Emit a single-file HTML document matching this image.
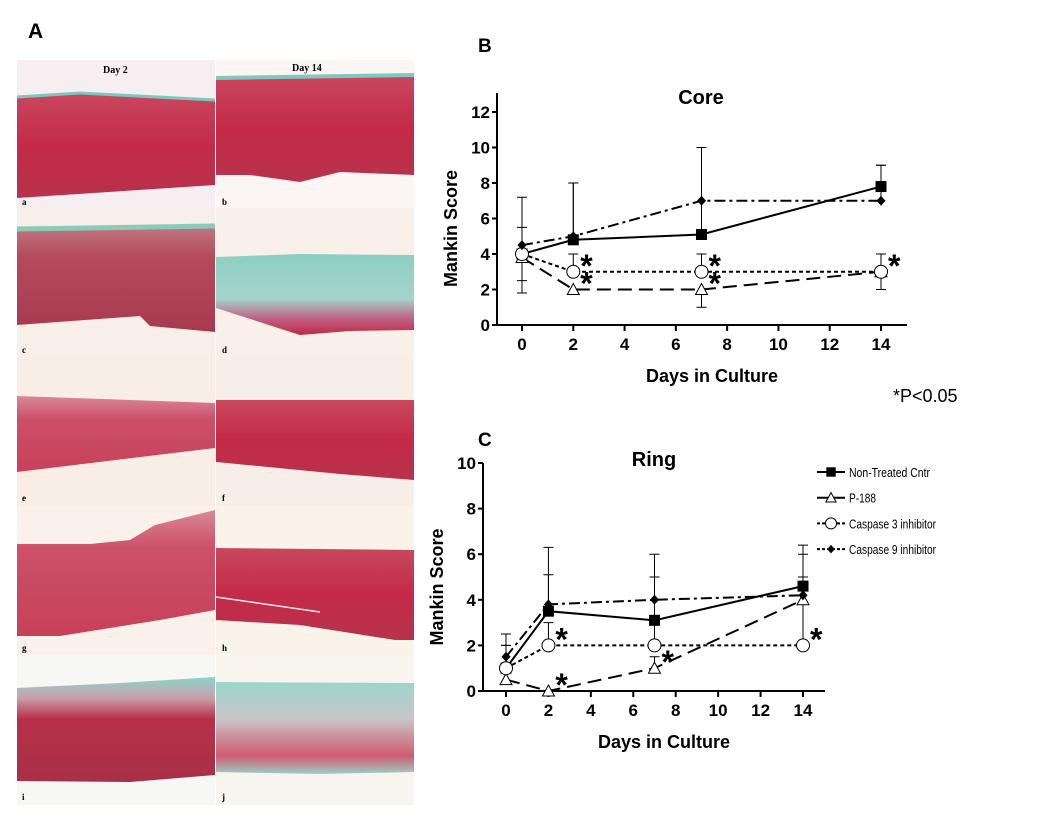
<!DOCTYPE html>
<html><head><meta charset="utf-8">
<style>
html,body{margin:0;padding:0;background:#fff;}
svg{display:block;font-family:"Liberation Sans",Arial,sans-serif;}
</style></head>
<body>
<svg id="fig" width="1050" height="813" viewBox="0 0 1050 813" xmlns="http://www.w3.org/2000/svg">
<defs>
<linearGradient id="redg" x1="0" y1="0" x2="0" y2="1"><stop offset="0" stop-color="#c8485e"/><stop offset="0.5" stop-color="#c42a48"/><stop offset="1" stop-color="#b8324c"/></linearGradient>
<linearGradient id="greyred" x1="0" y1="0" x2="0" y2="1"><stop offset="0" stop-color="#c07a82"/><stop offset="0.3" stop-color="#b54a5c"/><stop offset="1" stop-color="#a83a50"/></linearGradient>
<linearGradient id="tealred" x1="0" y1="0" x2="0" y2="1"><stop offset="0" stop-color="#8ccfc2"/><stop offset="0.55" stop-color="#a4d4cc"/><stop offset="0.8" stop-color="#c06080"/><stop offset="1" stop-color="#c02848"/></linearGradient>
<linearGradient id="pinkred" x1="0" y1="0" x2="0" y2="1"><stop offset="0" stop-color="#d88898"/><stop offset="0.3" stop-color="#cc5068"/><stop offset="1" stop-color="#c8405a"/></linearGradient>
<linearGradient id="darkred" x1="0" y1="0" x2="0" y2="1"><stop offset="0" stop-color="#8ed4cc"/><stop offset="0.2" stop-color="#c8a0a8"/><stop offset="0.4" stop-color="#b83048"/><stop offset="1" stop-color="#a83048"/></linearGradient>
<linearGradient id="paleteal" x1="0" y1="0" x2="0" y2="1"><stop offset="0" stop-color="#9ad6cc"/><stop offset="0.4" stop-color="#c8c6c8"/><stop offset="0.8" stop-color="#d05a70"/><stop offset="1" stop-color="#9ad0c8"/></linearGradient>
</defs>

<text x="28" y="38" font-size="21" font-weight="bold">A</text>
<g id="photos">
 <g>
  <rect x="17" y="60" width="198" height="148" fill="#f6eef0"/>
  <polygon points="17,97 80,93 215,100 215,185 17,198" fill="url(#redg)"/>
  <polyline points="17,97 80,93 215,100" stroke="#7cc8c0" stroke-width="3" fill="none"/>
  <text x="103" y="73" font-family="Liberation Serif" font-weight="bold" font-size="10">Day 2</text>
  <text x="22" y="205" font-family="Liberation Serif" font-weight="bold" font-size="9">a</text>
 </g>
 <g>
  <rect x="216" y="60" width="198" height="148" fill="#fbf6f4"/>
  <polygon points="216,78 414,75 414,175 340,172 300,182 250,175 216,175" fill="url(#redg)"/>
  <line x1="216" y1="78" x2="414" y2="75" stroke="#80c8c0" stroke-width="4"/>
  <text x="292" y="71" font-family="Liberation Serif" font-weight="bold" font-size="10">Day 14</text>
  <text x="222" y="205" font-family="Liberation Serif" font-weight="bold" font-size="9">b</text>
 </g>
 <g>
  <rect x="17" y="208" width="198" height="149" fill="#f8efe8"/>
  <polygon points="17,228 215,225 215,332 150,326 140,316 17,325" fill="url(#greyred)"/>
  <line x1="17" y1="229" x2="215" y2="226" stroke="#8ccbb8" stroke-width="5"/>
  <text x="22" y="353" font-family="Liberation Serif" font-weight="bold" font-size="9">c</text>
 </g>
 <g>
  <rect x="216" y="208" width="198" height="149" fill="#faf0ea"/>
  <polygon points="216,257 300,254 414,255 414,330 350,331 300,335 216,308" fill="url(#tealred)"/>
  <text x="222" y="353" font-family="Liberation Serif" font-weight="bold" font-size="9">d</text>
 </g>
 <g>
  <rect x="17" y="357" width="198" height="149" fill="#f8eee6"/>
  <polygon points="17,396 215,403 215,448 17,472" fill="url(#pinkred)"/>
  <text x="22" y="501" font-family="Liberation Serif" font-weight="bold" font-size="9">e</text>
 </g>
 <g>
  <rect x="216" y="357" width="198" height="149" fill="#f8eee8"/>
  <polygon points="216,400 414,400 414,480 340,474 216,462" fill="url(#redg)"/>
  <text x="222" y="501" font-family="Liberation Serif" font-weight="bold" font-size="9">f</text>
 </g>
 <g>
  <rect x="17" y="506" width="198" height="149" fill="#faf2ea"/>
  <polygon points="17,544 90,544 130,540 155,525 215,510 215,610 160,620 60,636 17,636" fill="url(#pinkred)"/>
  <text x="22" y="651" font-family="Liberation Serif" font-weight="bold" font-size="9">g</text>
 </g>
 <g>
  <rect x="216" y="506" width="198" height="149" fill="#faf3ea"/>
  <polygon points="216,548 414,550 414,640 395,640 300,625 216,620" fill="url(#redg)"/>
  <line x1="216" y1="597" x2="320" y2="612" stroke="#f0e8e8" stroke-width="1.5"/>
  <text x="222" y="651" font-family="Liberation Serif" font-weight="bold" font-size="9">h</text>
 </g>
 <g>
  <rect x="17" y="655" width="198" height="150" fill="#f7f7f4"/>
  <polygon points="17,688 120,683 215,677 215,775 130,782 17,781" fill="url(#darkred)"/>
  <text x="22" y="800" font-family="Liberation Serif" font-weight="bold" font-size="9">i</text>
 </g>
 <g>
  <rect x="216" y="655" width="198" height="150" fill="#f8f4ee"/>
  <polygon points="216,682 414,683 414,772 320,774 216,772" fill="url(#paleteal)"/>
  <text x="222" y="800" font-family="Liberation Serif" font-weight="bold" font-size="9">j</text>
 </g>
</g>

<text x="478" y="52" font-size="19" font-weight="bold">B</text>
<text x="478" y="446" font-size="19" font-weight="bold">C</text>
<text x="893" y="402" font-size="18">*P&lt;0.05</text>

<g id="chartB"></g>
<g id="chartC"></g>
<g id="legend"></g>
</svg>
<script>
const days = [0, 2, 7, 14];
const seriesNames = ["Non-Treated Cntr", "P-188", "Caspase 3 inhibitor", "Caspase 9 inhibitor"];
// Core
const coreNT = [4, 4.8, 5.1, 7.8];
const coreP188 = [3.8, 2, 2, 3];
const coreC3 = [4, 3, 3, 3];
const coreC9 = [4.5, 5, 7, 7];
const coreNTerr = [1.5, 3.2, 4.9, 1.2];
const coreP188err = [0, 0, 0, 0];
const coreC3err = [0, 1, 1, 1];
const coreC9err = [2.7, 3, 3, 2];
const coreP188down = [2, 0, 1, 1];
const coreC3down = [1.5, 0, 0, 0];
const coreYTicks = [0, 2, 4, 6, 8, 10, 12];
// Ring
const ringNT = [1, 3.5, 3.1, 4.6];
const ringP188 = [0.5, 0, 1, 4];
const ringC3 = [1, 2, 2, 2];
const ringC9 = [1.5, 3.8, 4, 4.2];
const ringNTerr = [1, 1.6, 1.9, 1.4];
const ringP188err = [0, 0, 0.5, 1];
const ringC3err = [1, 1, 3, 3];
const ringC9err = [1, 2.5, 2, 2.2];
const ringYTicks = [0, 2, 4, 6, 8, 10];
const xTicks = [0, 2, 4, 6, 8, 10, 12, 14];
// stars: [seriesIndex, dayIndex]
const coreStars = [[2,1],[1,1],[2,2],[1,2],[2,3]];
const ringStars = [[2,1],[1,1],[1,2],[2,3]];

const NS = "http://www.w3.org/2000/svg";
function mk(parent, tag, attrs, text) {
  const e = document.createElementNS(NS, tag);
  for (const k in attrs) e.setAttribute(k, attrs[k]);
  if (text !== undefined) e.textContent = text;
  parent.appendChild(e);
  return e;
}
const dashes = ["", "14,7", "4,3", "11,4,3,4"];

function marker(g, kind, cx, cy, name, s) {
  s = s || 1;
  let m;
  if (kind === 0) m = mk(g, "rect", {x: cx-5.5*s, y: cy-5.5*s, width: 11*s, height: 11*s, fill: "#000"});
  else if (kind === 1) m = mk(g, "polygon", {points: `${cx},${cy-6*s} ${cx+6*s},${cy+5*s} ${cx-6*s},${cy+5*s}`, fill: "#fff", stroke: "#000", "stroke-width": 1});
  else if (kind === 2) m = mk(g, "circle", {cx: cx, cy: cy, r: 6.5*s, fill: "#fff", stroke: "#000", "stroke-width": 1});
  else m = mk(g, "polygon", {points: `${cx},${cy-5*s} ${cx+4.5*s},${cy} ${cx},${cy+5*s} ${cx-4.5*s},${cy}`, fill: "#000"});
  
  
}

function drawChart(gid, cfg) {
  const g = document.getElementById(gid);
  const X = d => cfg.x0 + (d / 14) * (cfg.x14 - cfg.x0);
  const Y = v => cfg.y0 - (v / cfg.ymax) * (cfg.y0 - cfg.ytop);
  const ya = mk(g, "line", {x1: cfg.ax, y1: cfg.axTop, x2: cfg.ax, y2: cfg.y0, stroke: "#000", "stroke-width": 2});
  
  
  const xa = mk(g, "line", {x1: cfg.ax, y1: cfg.y0, x2: cfg.xEnd, y2: cfg.y0, stroke: "#000", "stroke-width": 2});
  
  
  cfg.yTicks.forEach(t => {
    mk(g, "line", {x1: cfg.ax-5, y1: Y(t), x2: cfg.ax, y2: Y(t), stroke: "#000", "stroke-width": 2});
    const tl = mk(g, "text", {x: cfg.ax-7, y: Y(t)+6, "text-anchor": "end", "font-size": 17, "font-weight": "bold"}, t);
    
    
  });
  xTicks.forEach(t => {
    mk(g, "line", {x1: X(t), y1: cfg.y0, x2: X(t), y2: cfg.y0+6, stroke: "#000", "stroke-width": 2});
    const tl = mk(g, "text", {x: X(t), y: cfg.y0+25, "text-anchor": "middle", "font-size": 17, "font-weight": "bold"}, t);
    
    
  });
  const yt = mk(g, "text", {x: 0, y: 0, "text-anchor": "middle", "font-size": 18, "font-weight": "bold", transform: `translate(${cfg.ax-40},${(cfg.y0+cfg.ytop)/2+10}) rotate(-90)`}, "Mankin Score");
  
  
  const xt = mk(g, "text", {x: (cfg.ax+cfg.xEnd)/2+10, y: cfg.y0+57, "text-anchor": "middle", "font-size": 18, "font-weight": "bold"}, "Days in Culture");
  
  
  const ti = mk(g, "text", {x: cfg.titleX, y: cfg.titleY, "text-anchor": "middle", "font-size": 20, "font-weight": "bold"}, cfg.title);
  
  
  function bar(x, y1, y2) {
    const eb = mk(g, "path", {d: `M${x},${y1}V${y2}M${x-5},${y2}H${x+5}`, stroke: "#000", "stroke-width": 1, fill: "none"});
    
    
  }
  cfg.series.forEach((s, si) => {
    s.forEach((v, i) => {
      const e = cfg.errs[si][i];
      if (e > 0) bar(X(days[i]), Y(v), Y(v + e));
      const dn = cfg.down[si] ? cfg.down[si][i] : 0;
      if (dn > 0) bar(X(days[i]), Y(v), Y(v - dn));
    });
  });
  cfg.series.forEach((s, si) => {
    const pts = s.map((v, i) => `${X(days[i])},${Y(v)}`).join(" ");
    const pl = mk(g, "polyline", {points: pts, fill: "none", stroke: "#000", "stroke-width": 2, "stroke-dasharray": dashes[si]});
    
    
  });
  cfg.series.forEach((s, si) => {
    s.forEach((v, i) => marker(g, si, X(days[i]), Y(v), 'data-point'));
  });
  cfg.stars.forEach(([si, di]) => {
    const v = cfg.series[si][di];
    const st = mk(g, "text", {x: X(days[di]) + 7, y: Y(v) + 5, "font-size": 32, "font-weight": "bold"}, "*");
    
    
  });
}

drawChart("chartB", {x0: 522, x14: 881, ax: 497, xEnd: 907, y0: 325, ytop: 112, ymax: 12, axTop: 93,
  yTicks: coreYTicks, title: "Core", titleX: 701, titleY: 104,
  series: [coreNT, coreP188, coreC3, coreC9], errs: [coreNTerr, coreP188err, coreC3err, coreC9err],
  down: [null, coreP188down, coreC3down, null], stars: coreStars});
drawChart("chartC", {x0: 506, x14: 803, ax: 483, xEnd: 825, y0: 691, ytop: 463, ymax: 10, axTop: 463,
  yTicks: ringYTicks, title: "Ring", titleX: 654, titleY: 466,
  series: [ringNT, ringP188, ringC3, ringC9], errs: [ringNTerr, ringP188err, ringC3err, ringC9err],
  down: [null, null, null, null], stars: ringStars});

const lg = document.getElementById("legend");
seriesNames.forEach((n, i) => {
  const y = 472 + i * 25.7;
  const ln = mk(lg, "line", {x1: 817, y1: y, x2: 845, y2: y, stroke: "#000", "stroke-width": 2, "stroke-dasharray": i >= 2 ? "3,2" : ""});
  
  
  marker(lg, i, 831, y, 'legend-marker', 0.85);
  const t = mk(lg, "text", {x: 849, y: y + 5, "font-size": 13, textLength: i === 0 ? 81 : (i === 1 ? 27 : 87), lengthAdjust: "spacingAndGlyphs"}, n);
  
  
});
</script>
</body></html>
